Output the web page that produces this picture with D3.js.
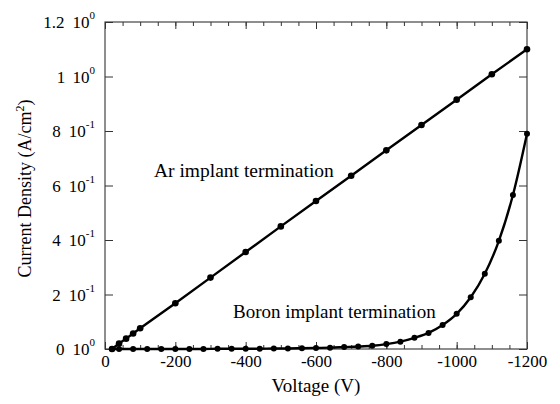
<!DOCTYPE html>
<html><head><meta charset="utf-8">
<script src="https://cdn.jsdelivr.net/npm/d3@7/dist/d3.min.js"></script>
<style>body{margin:0;background:#fff}svg{display:block}</style>
</head><body><svg id="c" width="560" height="404"></svg>
<script>
const arV = [-20,-40,-60,-80,-100,-200,-300,-400,-500,-600,-700,-800,-900,-1000,-1100,-1200];
const arJ = [0,0.02,0.038,0.057,0.076,0.168,0.262,0.356,0.45,0.543,0.636,0.729,0.822,0.915,1.008,1.1];
const boV = [-20,-40,-80,-120,-160,-200,-240,-280,-320,-360,-400,-440,-480,-520,-560,-600,-640,-680,-720,-760,-800,-840,-880,-920,-960,-1000,-1040,-1080,-1120,-1160,-1200];
const boJ = [0,0,0,0,0,0,0,0,0.001,0.001,0.001,0.001,0.002,0.002,0.003,0.004,0.005,0.007,0.009,0.012,0.018,0.027,0.041,0.059,0.088,0.129,0.19,0.276,0.397,0.565,0.79];
const xTicks = [0,-200,-400,-600,-800,-1000,-1200];
const yTicks = [0,0.2,0.4,0.6,0.8,1.0,1.2];
const yMant = ["0","2","4","6","8","1","1.2"];
const yExp = ["0","-1","-1","-1","-1","0","0"];

const svg = d3.select("#c");
const font = "'Liberation Serif','Times New Roman',serif";
const L=105,R=527,T=22,B=349;
const x = d3.scaleLinear().domain([0,-1200]).range([L,R]);
const y = d3.scaleLinear().domain([0,1.2]).range([B,T]);

svg.append("rect").attr("x",L).attr("y",T).attr("width",R-L).attr("height",B-T)
  .attr("fill","none").attr("stroke","#444").attr("stroke-width",1.2);

const minor = d3.range(0,-1201,-50);
svg.append("g").attr("transform",`translate(0,${B})`)
  .call(d3.axisBottom(x).tickValues(minor).tickSize(-4).tickFormat(""))
  .call(g=>g.select(".domain").remove()).selectAll("line").attr("stroke","#333");
svg.append("g").attr("transform",`translate(0,${B})`)
  .call(d3.axisBottom(x).tickValues(xTicks).tickSize(-7).tickPadding(6).tickFormat(d=>d))
  .call(g=>g.select(".domain").remove())
  .call(g=>g.selectAll("line").attr("stroke","#333"))
  .call(g=>g.selectAll("text").attr("font-family",font).attr("font-size",17).attr("fill","#000"));
svg.append("g").attr("transform",`translate(0,${T})`)
  .call(d3.axisTop(x).tickValues(minor).tickSize(-4).tickFormat(""))
  .call(g=>g.select(".domain").remove()).selectAll("line").attr("stroke","#333");
svg.append("g").attr("transform",`translate(0,${T})`)
  .call(d3.axisTop(x).tickValues(xTicks).tickSize(-7).tickFormat(""))
  .call(g=>g.select(".domain").remove()).selectAll("line").attr("stroke","#333");
svg.append("g").attr("transform",`translate(${L},0)`)
  .call(d3.axisLeft(y).tickValues(yTicks).tickSize(-8).tickFormat(""))
  .call(g=>g.select(".domain").remove()).selectAll("line").attr("stroke","#333");
svg.append("g").attr("transform",`translate(${R},0)`)
  .call(d3.axisRight(y).tickValues(yTicks).tickSize(-8).tickFormat(""))
  .call(g=>g.select(".domain").remove()).selectAll("line").attr("stroke","#333");

yTicks.forEach((v,i)=>{
  const t = svg.append("text").attr("x",L-10).attr("y",y(v)+6)
    .attr("text-anchor","end").attr("font-family",font).attr("font-size",17);
  t.append("tspan").text(yMant[i]);
  t.append("tspan").attr("dx",8).text("10");
  t.append("tspan").attr("dy",-9).attr("font-size",11).text(yExp[i]);
});

svg.append("text").attr("x",(L+R)/2).attr("y",392).attr("text-anchor","middle")
  .attr("font-family",font).attr("font-size",19).text("Voltage (V)");
const yl = svg.append("text").attr("transform",`translate(31,${(T+B)/2+3}) rotate(-90)`)
  .attr("text-anchor","middle").attr("font-family",font).attr("font-size",18);
yl.append("tspan").text("Current Density (A/cm");
yl.append("tspan").attr("dy",-7).attr("font-size",12).text("2");
yl.append("tspan").attr("dy",7).text(")");

const line = d3.line().x(d=>x(d[0])).y(d=>y(d[1]));
const ar = arV.map((v,i)=>[v,arJ[i]]);
const bo = boV.map((v,i)=>[v,boJ[i]]);
svg.append("path").datum(ar).attr("d",line).attr("fill","none").attr("stroke","#000").attr("stroke-width",2.4);
svg.append("path").datum(bo).attr("d",line.curve(d3.curveMonotoneX)).attr("fill","none").attr("stroke","#000").attr("stroke-width",2.4);
svg.selectAll(".ar").data(ar).join("circle").attr("cx",d=>x(d[0])).attr("cy",d=>y(d[1])).attr("r",3.3).attr("fill","#000");
svg.selectAll(".bo").data(bo).join("circle").attr("cx",d=>x(d[0])).attr("cy",d=>y(d[1])).attr("r",3).attr("fill","#000");

svg.append("text").attr("x",154).attr("y",177).attr("font-family",font).attr("font-size",19.5).text("Ar implant termination");
svg.append("text").attr("x",233).attr("y",318).attr("font-family",font).attr("font-size",19).text("Boron implant termination");
</script></body></html>
